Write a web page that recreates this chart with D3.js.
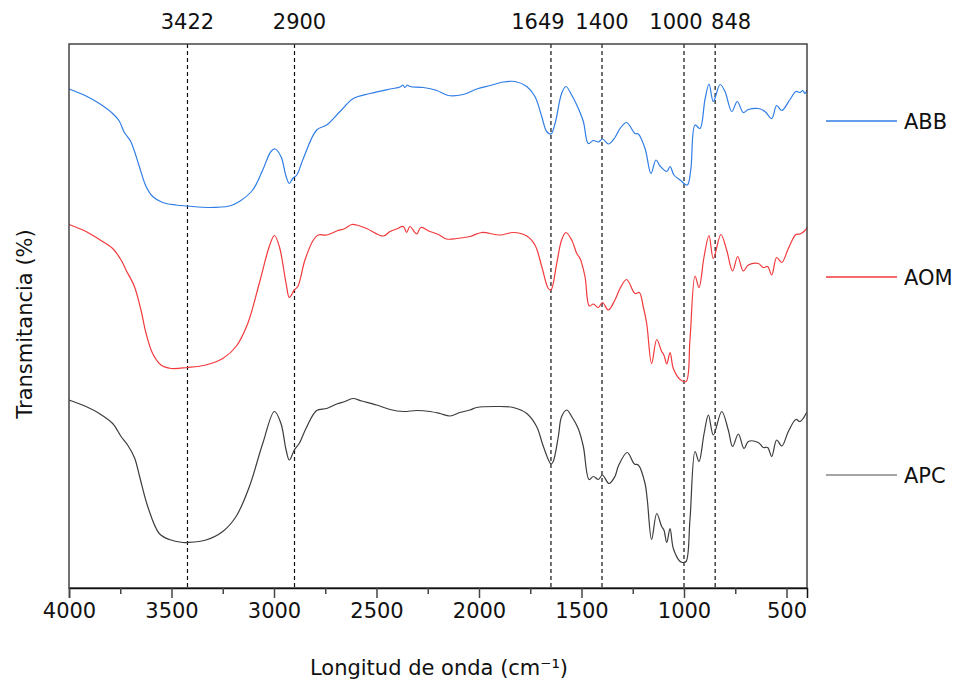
<!DOCTYPE html>
<html>
<head>
<meta charset="utf-8">
<script src="https://cdn.jsdelivr.net/npm/d3@7"></script>
<style>
  body { margin: 0; background: #fff; }
  svg text { font-family: "DejaVu Sans", "Open Sans", sans-serif; fill: #111; }
</style>
</head>
<body>
<div id="chart"></div>
<script>
// FTIR spectra, [wavenumber cm-1, transmittance (arbitrary, offset per sample)]
var abb = [
  [4000, 91.0], [3917, 89.6], [3852, 88.1], [3787, 86.1], [3755, 84.6], [3730, 82.3],
  [3700, 80.6], [3681, 78.6], [3657, 75.5], [3624, 71.5], [3592, 69.5], [3543, 68.3], [3478, 67.8],
  [3422, 67.6], [3316, 67.3], [3218, 67.6], [3169, 68.5], [3104, 70.8], [3055, 74.8],
  [3015, 78.5], [2995, 79.0], [2966, 77.5], [2941, 73.5], [2925, 72.1], [2909, 73.1],
  [2889, 73.8], [2857, 77.1], [2792, 82.8], [2743, 83.8], [2678, 86.5], [2613, 89.1],
  [2532, 90.1], [2434, 91.0], [2385, 91.4], [2372, 91.8], [2361, 91.3], [2350, 91.8],
  [2337, 91.5], [2272, 91.3], [2206, 90.7], [2150, 89.7], [2077, 89.9], [2011, 91.0],
  [1946, 91.7], [1881, 92.4], [1824, 92.5], [1767, 91.5], [1727, 89.5], [1694, 85.5],
  [1670, 82.5], [1649, 82.0], [1629, 84.1], [1597, 90.1], [1576, 91.5], [1548, 89.8],
  [1523, 87.8], [1491, 84.5], [1467, 80.1], [1442, 80.7], [1418, 80.4], [1397, 81.0],
  [1369, 80.0], [1337, 81.3], [1312, 83.1], [1280, 84.3], [1239, 82.1], [1223, 82.0],
  [1190, 79.1], [1161, 74.1], [1137, 76.8], [1117, 75.6], [1084, 74.5], [1068, 75.5],
  [1049, 73.8], [1019, 72.8], [984, 71.8], [967, 74.8], [946, 83.8], [922, 83.1],
  [898, 88.8], [878, 92.0], [857, 88.5], [824, 91.9], [800, 90.5], [767, 86.5],
  [740, 88.5], [711, 86.3], [686, 86.9], [638, 87.1], [605, 86.5], [572, 85.1],
  [548, 87.7], [523, 86.7], [483, 88.9], [454, 90.5], [434, 90.3], [421, 90.7],
  [410, 90.1], [400, 90.8]
];

var aom = [
  [4000, 63.9], [3917, 62.5], [3852, 60.9], [3787, 59.1], [3746, 56.8], [3722, 54.8],
  [3681, 51.5], [3649, 46.8], [3624, 42.1], [3592, 38.1], [3551, 35.8], [3502, 35.1],
  [3422, 35.3], [3332, 35.8], [3250, 37.1], [3185, 39.5], [3128, 44.1], [3072, 52.1],
  [3023, 59.5], [2998, 61.7], [2974, 59.5], [2941, 52.1], [2925, 49.3], [2901, 50.8],
  [2884, 51.5], [2849, 56.8], [2808, 60.8], [2784, 61.8], [2743, 61.8], [2694, 62.6],
  [2654, 63.1], [2621, 63.9], [2597, 63.8], [2548, 63.1], [2467, 61.6], [2434, 62.5],
  [2401, 63.0], [2369, 63.5], [2353, 62.3], [2337, 63.5], [2304, 62.0], [2284, 63.3],
  [2239, 62.5], [2198, 61.9], [2158, 61.0], [2109, 61.1], [2044, 61.5], [1987, 62.3],
  [1898, 61.8], [1833, 62.3], [1767, 61.6], [1727, 59.8], [1694, 55.5], [1662, 51.1],
  [1649, 50.8], [1621, 56.1], [1597, 60.8], [1576, 62.3], [1548, 60.8], [1523, 58.1],
  [1507, 57.1], [1483, 53.5], [1462, 47.6], [1442, 48.0], [1418, 47.3], [1398, 48.3],
  [1369, 46.8], [1337, 48.8], [1312, 51.1], [1280, 52.9], [1239, 50.1], [1218, 50.3],
  [1199, 47.5], [1182, 44.1], [1158, 36.1], [1133, 40.9], [1109, 38.5], [1098, 37.8],
  [1084, 36.0], [1068, 38.3], [1052, 35.1], [1019, 32.9], [990, 32.5], [971, 40.8],
  [946, 53.6], [927, 51.3], [902, 57.5], [878, 61.7], [857, 57.1], [820, 61.9],
  [792, 58.8], [763, 54.6], [738, 57.5], [711, 54.6], [686, 55.8], [638, 56.1],
  [613, 55.3], [592, 55.5], [572, 53.8], [548, 57.3], [523, 56.3], [491, 59.1],
  [454, 61.9], [434, 62.0], [410, 62.7], [400, 63.3]
];

var apc = [
  [4000, 28.8], [3917, 27.5], [3852, 26.1], [3787, 24.1], [3746, 21.5], [3714, 19.8],
  [3680, 17.2], [3655, 13.4], [3616, 7.5], [3560, 2.1], [3511, 0.9], [3445, 0.3],
  [3422, 0.3], [3332, 0.8], [3250, 2.5], [3185, 5.5], [3120, 11.5], [3055, 20.1],
  [2998, 26.5], [2966, 24.1], [2941, 18.8], [2925, 16.8], [2901, 18.8], [2877, 20.1],
  [2844, 23.1], [2792, 26.7], [2743, 27.1], [2694, 28.0], [2654, 28.5], [2616, 29.1],
  [2572, 28.6], [2499, 27.8], [2434, 26.9], [2369, 26.5], [2304, 26.7], [2239, 26.5],
  [2190, 26.1], [2141, 25.6], [2093, 26.3], [2044, 26.8], [2011, 27.3], [1914, 27.5],
  [1833, 27.3], [1767, 26.1], [1719, 23.5], [1686, 19.5], [1649, 16.0], [1638, 16.5],
  [1613, 21.5], [1597, 25.5], [1572, 26.8], [1548, 25.5], [1516, 23.1], [1491, 19.5],
  [1463, 12.9], [1442, 13.5], [1418, 12.9], [1398, 13.8], [1366, 12.1], [1337, 13.5],
  [1320, 15.6], [1277, 18.3], [1242, 16.0], [1223, 15.8], [1190, 12.1], [1179, 8.8],
  [1158, 0.9], [1133, 6.1], [1109, 3.5], [1098, 2.8], [1084, 0.3], [1068, 3.1],
  [1052, -0.9], [1019, -3.5], [1006, -3.7], [990, -3.5], [971, 4.8], [946, 18.5],
  [927, 16.5], [902, 22.1], [881, 25.8], [857, 21.8], [816, 26.5], [784, 22.8],
  [763, 19.5], [735, 22.0], [707, 19.1], [686, 20.5], [638, 20.3], [613, 19.3],
  [592, 19.3], [572, 17.5], [548, 20.8], [523, 19.6], [491, 22.5], [454, 24.9],
  [434, 24.5], [402, 26.3]
];

var seriesNames = ["ABB", "AOM", "APC"];
var seriesColors = ["#2f7de6", "#f2393c", "#3c3c3c"];
var legendColors = ["#2f7de6", "#f2393c", "#a6a6a6"];
var peaks = [3422, 2900, 1649, 1400, 1000, 848];
var peakLabelShift = [0, 5, -13, 0, -8, 16];
var majorTicks = [4000, 3500, 3000, 2500, 2000, 1500, 1000, 500];
var minorTicks = [3750, 3250, 2750, 2250, 1750, 1250, 750];

var W = 963, H = 685;
var margin = { top: 44, right: 156, bottom: 97, left: 69 };
var innerW = W - margin.left - margin.right,
  innerH = H - margin.top - margin.bottom;
var fontSize = "21px";

var svg = d3.select("#chart").append("svg").attr("width", W).attr("height", H);
var g = svg.append("g").attr("transform", "translate(" + margin.left + "," + margin.top + ")");

var x = d3.scaleLinear().domain([4000, 400]).range([0, innerW]);
var y = d3.scaleLinear().domain([-8.8, 100]).range([innerH, 0]);

// dashed peak markers
g.append("g").selectAll("line")
  .data(peaks)
  .enter().append("line")
  .attr("x1", function (d) { return x(d); })
  .attr("x2", function (d) { return x(d); })
  .attr("y1", 0)
  .attr("y2", innerH)
  .attr("stroke", "#111")
  .attr("stroke-width", 1.2)
  .attr("stroke-dasharray", "4,3");

g.append("g").selectAll("text")
  .data(peaks)
  .enter().append("text")
  .attr("x", function (d, i) { return x(d) + peakLabelShift[i]; })
  .attr("y", -15)
  .attr("text-anchor", "middle")
  .style("font-size", fontSize)
  .text(function (d) { return d; });

// spectra
var line = d3.line()
  .x(function (d) { return x(d[0]); })
  .y(function (d) { return y(d[1]); })
  .curve(d3.curveCatmullRom.alpha(0.5));

[abb, aom, apc].forEach(function (s, i) {
  g.append("path")
    .datum(s)
    .attr("fill", "none")
    .attr("stroke", seriesColors[i])
    .attr("stroke-width", 1.2)
    .attr("d", line);
});

// frame
g.append("rect")
  .attr("width", innerW)
  .attr("height", innerH)
  .attr("fill", "none")
  .attr("stroke", "#444")
  .attr("stroke-width", 1.5);

// x axis
var xAxis = g.append("g")
  .attr("transform", "translate(0," + innerH + ")")
  .call(d3.axisBottom(x).tickValues(majorTicks).tickSize(10).tickPadding(5).tickFormat(d3.format("d")));
xAxis.select(".domain").attr("stroke", "#111").attr("stroke-width", 1.5);
xAxis.selectAll(".tick line").attr("stroke", "#444").attr("stroke-width", 1.5);
xAxis.selectAll("text").style("font-size", fontSize).attr("fill", "#111");

var minor = g.append("g")
  .attr("transform", "translate(0," + innerH + ")")
  .call(d3.axisBottom(x).tickValues(minorTicks).tickSize(6).tickFormat(""));
minor.select(".domain").remove();
minor.selectAll(".tick line").attr("stroke", "#444").attr("stroke-width", 1.5);

// axis titles
svg.append("text")
  .attr("x", 439)
  .attr("y", 675)
  .attr("text-anchor", "middle")
  .style("font-size", fontSize)
  .text("Longitud de onda (cm\u207B\u00B9)");

svg.append("text")
  .attr("transform", "translate(32,324) rotate(-90)")
  .attr("text-anchor", "middle")
  .style("font-size", fontSize)
  .text("Transmitancia (%)");

// legend
var legendY = [121, 277, 475];
var legend = svg.append("g");
seriesNames.forEach(function (name, i) {
  legend.append("line")
    .attr("x1", 826).attr("x2", 897)
    .attr("y1", legendY[i]).attr("y2", legendY[i])
    .attr("stroke", legendColors[i])
    .attr("stroke-width", i === 2 ? 2 : 1.3);
  legend.append("text")
    .attr("x", 904)
    .attr("y", legendY[i] + 8)
    .style("font-size", fontSize)
    .text(name);
});
</script>
</body>
</html>
